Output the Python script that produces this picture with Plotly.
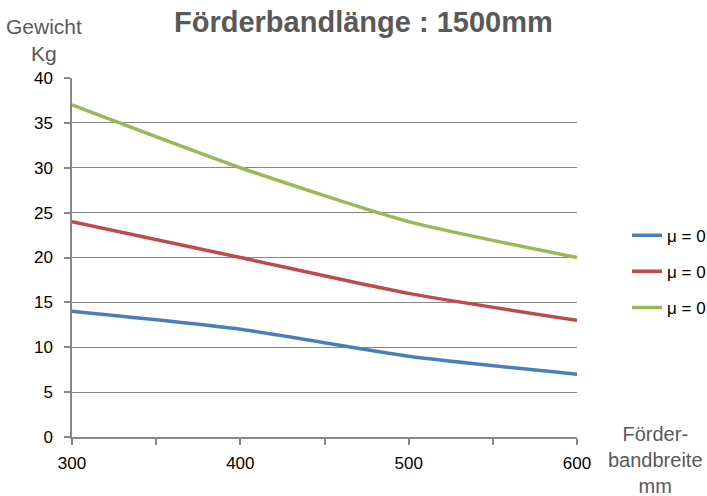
import plotly.graph_objects as go

breite = [300, 400, 500, 600]
gewicht_blau = [14, 12, 9, 7]
gewicht_rot = [24, 20, 16, 13]
gewicht_gruen = [37, 30, 24, 20]
serien_namen = ["μ = 0", "μ = 0", "μ = 0"]
farben = ["#4a7ebb", "#be4b48", "#98b954"]

x_ticks = [300, 350, 400, 450, 500, 550, 600]
x_ticktext = ["300", "", "400", "", "500", "", "600"]
y_ticks = list(range(0, 41, 5))

fig = go.Figure()
for i, (werte, name, farbe) in enumerate(zip([gewicht_blau, gewicht_rot, gewicht_gruen], serien_namen, farben)):
    fig.add_trace(go.Scatter(
        x=breite, y=werte, name=name, mode="lines", legendgroup=f"g{i}",
        line=dict(color=farbe, width=3.5, shape="spline", smoothing=0.6),
    ))

achsen_grau = "#878787"

fig.update_layout(
    width=707, height=496,
    margin=dict(l=72, r=130, t=78, b=59, autoexpand=False),
    paper_bgcolor="white", plot_bgcolor="white",
    font=dict(family="Liberation Sans, Arial, sans-serif", color="#000000", size=17),
    title=dict(
        text="<b>Förderbandlänge : 1500mm</b>",
        x=0.514, xanchor="center", y=0.956, yanchor="middle",
        font=dict(size=29, color="#595959"),
    ),
    xaxis=dict(
        range=[300, 600], tickvals=x_ticks, ticktext=x_ticktext,
        showgrid=False, showline=True, linecolor=achsen_grau, linewidth=1.5,
        ticks="outside", ticklen=6, tickcolor=achsen_grau, tickwidth=1.5,
        zeroline=False, tickfont=dict(size=17, color="#000000"),
        ticklabelstandoff=4,
    ),
    yaxis=dict(
        range=[0, 40], tickvals=y_ticks,
        showgrid=True, gridcolor=achsen_grau, gridwidth=1.2,
        showline=True, linecolor=achsen_grau, linewidth=1.5,
        ticks="outside", ticklen=6, tickcolor=achsen_grau, tickwidth=1.5,
        zeroline=False, tickfont=dict(size=17, color="#000000"),
        ticklabelstandoff=8,
    ),
    legend=dict(
        x=1.099, xanchor="left", y=0.611, yanchor="top",
        font=dict(size=17, color="#000000"), itemwidth=30,
        traceorder="grouped", tracegroupgap=11,
        bgcolor="rgba(0,0,0,0)",
    ),
    annotations=[
        dict(text="Gewicht<br>Kg", xref="paper", yref="paper", x=-0.055, y=1.106,
             xanchor="center", yanchor="middle", showarrow=False,
             font=dict(size=21, color="#595959"), align="center"),
        dict(text="Förder-<br>bandbreite<br>mm", xref="paper", yref="paper", x=1.155, y=-0.064,
             xanchor="center", yanchor="middle", showarrow=False,
             font=dict(size=20, color="#595959"), align="center"),
    ],
)

fig.write_html("out.html")
